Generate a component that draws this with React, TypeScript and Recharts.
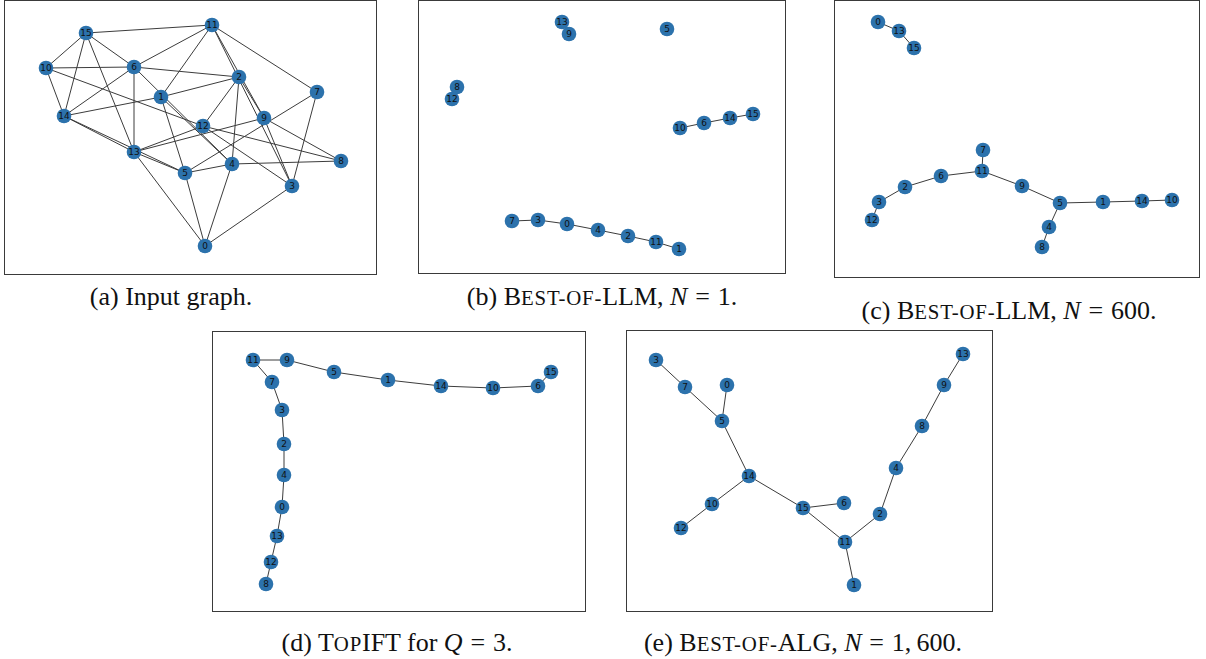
import React from 'react';
import { ScatterChart, Scatter, XAxis, YAxis } from 'recharts';

// Node layouts for each drawing (x to the right, y downward, in panel units)
const inputNodes = [
  { id: 15, x: 82, y: 33 }, { id: 10, x: 42, y: 68 }, { id: 6, x: 130, y: 67 },
  { id: 1, x: 157, y: 97 }, { id: 14, x: 60, y: 116 }, { id: 11, x: 208, y: 25 },
  { id: 2, x: 235, y: 77 }, { id: 7, x: 313, y: 92 }, { id: 9, x: 260, y: 118 },
  { id: 12, x: 199, y: 126 }, { id: 13, x: 130, y: 152 }, { id: 5, x: 181, y: 173 },
  { id: 4, x: 228, y: 164 }, { id: 8, x: 337, y: 161 }, { id: 3, x: 288, y: 186 },
  { id: 0, x: 201, y: 246 },
];
const inputEdges = [
  [15, 11], [15, 10], [15, 14], [15, 6], [15, 13],
  [10, 6], [10, 14], [10, 12],
  [6, 11], [6, 2], [6, 13], [6, 14], [6, 4],
  [1, 4], [1, 2], [1, 11], [1, 14], [1, 5],
  [14, 13], [14, 5],
  [11, 9], [11, 3], [11, 7],
  [2, 12], [2, 4], [2, 9],
  [7, 3], [7, 5],
  [9, 13], [9, 8], [9, 3],
  [12, 13], [12, 8], [12, 3],
  [13, 5], [13, 0],
  [5, 4], [5, 0], [4, 0], [4, 8], [3, 0],
];

const llm1Nodes = [
  { id: 13, x: 144, y: 22 }, { id: 9, x: 151, y: 34 }, { id: 5, x: 249, y: 29 },
  { id: 8, x: 39, y: 87 }, { id: 12, x: 34, y: 99 }, { id: 10, x: 262, y: 128 },
  { id: 6, x: 286, y: 123 }, { id: 14, x: 312, y: 118 }, { id: 15, x: 335, y: 114 },
  { id: 7, x: 94, y: 221 }, { id: 3, x: 120, y: 220 }, { id: 0, x: 149, y: 224 },
  { id: 4, x: 180, y: 230 }, { id: 2, x: 210, y: 236 }, { id: 11, x: 238, y: 242 },
  { id: 1, x: 261, y: 249 },
];
const llm1Edges = [
  [10, 6], [6, 14], [14, 15],
  [7, 3], [3, 0], [0, 4], [4, 2], [2, 11], [11, 1],
];

const llm600Nodes = [
  { id: 0, x: 44, y: 22 }, { id: 13, x: 65, y: 31 }, { id: 15, x: 80, y: 48 },
  { id: 7, x: 149, y: 150 }, { id: 11, x: 148, y: 171 }, { id: 6, x: 107, y: 176 },
  { id: 2, x: 71, y: 187 }, { id: 3, x: 45, y: 202 }, { id: 12, x: 38, y: 220 },
  { id: 9, x: 188, y: 186 }, { id: 5, x: 226, y: 203 }, { id: 1, x: 269, y: 202 },
  { id: 14, x: 308, y: 201 }, { id: 10, x: 338, y: 200 }, { id: 4, x: 215, y: 227 },
  { id: 8, x: 208, y: 247 },
];
const llm600Edges = [
  [0, 13], [13, 15],
  [7, 11], [11, 6], [6, 2], [2, 3], [3, 12],
  [11, 9], [9, 5], [5, 1], [1, 14], [14, 10], [5, 4], [4, 8],
];

const topiftNodes = [
  { id: 11, x: 41, y: 29 }, { id: 9, x: 75, y: 29 }, { id: 5, x: 122, y: 41 },
  { id: 1, x: 176, y: 49 }, { id: 14, x: 229, y: 55 }, { id: 10, x: 281, y: 57 },
  { id: 6, x: 326, y: 55 }, { id: 15, x: 339, y: 41 }, { id: 7, x: 60, y: 51 },
  { id: 3, x: 70, y: 79 }, { id: 2, x: 72, y: 113 }, { id: 4, x: 72, y: 144 },
  { id: 0, x: 70, y: 176 }, { id: 13, x: 65, y: 205 }, { id: 12, x: 59, y: 231 },
  { id: 8, x: 54, y: 253 },
];
const topiftEdges = [
  [11, 9], [9, 5], [5, 1], [1, 14], [14, 10], [10, 6], [6, 15],
  [11, 7], [7, 3], [3, 2], [2, 4], [4, 0], [0, 13], [13, 12], [12, 8],
];

const algNodes = [
  { id: 3, x: 30, y: 30 }, { id: 7, x: 59, y: 57 }, { id: 0, x: 101, y: 55 },
  { id: 5, x: 96, y: 91 }, { id: 14, x: 123, y: 146 }, { id: 10, x: 86, y: 174 },
  { id: 12, x: 55, y: 198 }, { id: 15, x: 177, y: 178 }, { id: 6, x: 218, y: 173 },
  { id: 11, x: 219, y: 212 }, { id: 1, x: 228, y: 255 }, { id: 2, x: 254, y: 184 },
  { id: 4, x: 270, y: 138 }, { id: 8, x: 296, y: 96 }, { id: 9, x: 318, y: 55 },
  { id: 13, x: 337, y: 24 },
];
const algEdges = [
  [3, 7], [7, 5], [0, 5], [5, 14], [14, 10], [10, 12], [14, 15],
  [15, 6], [15, 11], [11, 1], [11, 2], [2, 4], [4, 8], [8, 9], [9, 13],
];

// Caption pieces: plain text, small-caps run (sc), math italic (it), relation sign (eq)
const captionA = [{ t: '(a) Input graph.' }];
const captionB = [{ t: '(b) B' }, { t: 'EST-OF-', sc: true }, { t: 'LLM, ' }, { t: 'N', it: true }, { t: '=', eq: true }, { t: '1.' }];
const captionC = [{ t: '(c) B' }, { t: 'EST-OF-', sc: true }, { t: 'LLM, ' }, { t: 'N', it: true }, { t: '=', eq: true }, { t: '600.' }];
const captionD = [{ t: '(d) T' }, { t: 'OP', sc: true }, { t: 'IFT for ' }, { t: 'Q', it: true }, { t: '=', eq: true }, { t: '3.' }];
const captionE = [{ t: '(e) B' }, { t: 'EST-OF-', sc: true }, { t: 'ALG, ' }, { t: 'N', it: true }, { t: '=', eq: true }, { t: '1,\u2009600.' }];

const panels = [
  { key: 'a', left: 4, top: 0, w: 373, h: 275, nodes: inputNodes, edges: inputEdges, caption: captionA, cx: 171, cy: 305 },
  { key: 'b', left: 418, top: 0, w: 368, h: 274, nodes: llm1Nodes, edges: llm1Edges, caption: captionB, cx: 602, cy: 305 },
  { key: 'c', left: 834, top: 0, w: 366, h: 278, nodes: llm600Nodes, edges: llm600Edges, caption: captionC, cx: 1009, cy: 319 },
  { key: 'd', left: 212, top: 331, w: 374, h: 281, nodes: topiftNodes, edges: topiftEdges, caption: captionD, cx: 397, cy: 651 },
  { key: 'e', left: 626, top: 330, w: 367, h: 282, nodes: algNodes, edges: algEdges, caption: captionE, cx: 803, cy: 651 },
];

const NODE_FILL = '#2c72ac';
const EDGE_STROKE = '#3c3c3c';
const CAPTION_SIZE = 26;
const MATH_GAP = CAPTION_SIZE * 0.3;

const NodeShape = (props: any) => {
  const { cx, cy } = props;
  const id = props.payload ? props.payload.id : props.id;
  return (
    <g>
      <circle cx={cx} cy={cy} r={7.3} fill={NODE_FILL} />
      <text
        x={cx}
        y={cy}
        dy="0.36em"
        textAnchor="middle"
        fontSize={9}
        fontFamily="'DejaVu Sans', sans-serif"
        fill="#111"
      >
        {id}
      </text>
    </g>
  );
};

const NoShape = () => <g />;

function GraphPanel({ panel }: { panel: any }) {
  const pos = new Map<number, any>(panel.nodes.map((n: any) => [n.id, n]));
  return (
    <div style={{ position: 'absolute', left: panel.left, top: panel.top, width: panel.w, height: panel.h }}>
      <ScatterChart width={panel.w} height={panel.h} margin={{ top: 0, right: 0, bottom: 0, left: 0 }}>
        <XAxis type="number" dataKey="x" domain={[0, panel.w]} hide />
        <YAxis type="number" dataKey="y" domain={[0, panel.h]} reversed hide />
        {panel.edges.map(([a, b]: number[], i: number) => (
          <Scatter
            key={`e${i}`}
            data={[pos.get(a), pos.get(b)]}
            line={{ stroke: EDGE_STROKE, strokeWidth: 1 }}
            shape={NoShape}
            isAnimationActive={false}
          />
        ))}
        <Scatter data={panel.nodes} shape={NodeShape} isAnimationActive={false} />
      </ScatterChart>
      <div
        style={{
          position: 'absolute',
          left: 0,
          top: 0,
          width: panel.w,
          height: panel.h,
          boxSizing: 'border-box',
          border: '1.4px solid #3a3a3a',
          pointerEvents: 'none',
        }}
      />
    </div>
  );
}

function Caption({ parts, x, y }: { parts: any[]; x: number; y: number }) {
  return (
    <text
      x={x}
      y={y}
      textAnchor="middle"
      fontSize={CAPTION_SIZE}
      fontFamily="'Liberation Serif', 'DejaVu Serif', serif"
      fill="#111"
      style={{ whiteSpace: 'pre' }}
    >
      {parts.map((p, i) => {
        const afterEq = i > 0 && parts[i - 1].eq;
        return (
          <tspan
            key={i}
            dx={p.eq || afterEq ? MATH_GAP : undefined}
            fontSize={p.sc ? CAPTION_SIZE * 0.8 : CAPTION_SIZE}
            fontStyle={p.it ? 'italic' : 'normal'}
            letterSpacing={p.sc ? 0.8 : undefined}
          >
            {p.t}
          </tspan>
        );
      })}
    </text>
  );
}

export default function App() {
  return (
    <div style={{ position: 'absolute', left: 0, top: 0, width: 1206, height: 659, background: '#fff', overflow: 'hidden' }}>
      {panels.map((p) => (
        <GraphPanel key={p.key} panel={p} />
      ))}
      <svg width={1206} height={659} style={{ position: 'absolute', left: 0, top: 0, pointerEvents: 'none' }}>
        {panels.map((p) => (
          <Caption key={p.key} parts={p.caption} x={p.cx} y={p.cy} />
        ))}
      </svg>
    </div>
  );
}
